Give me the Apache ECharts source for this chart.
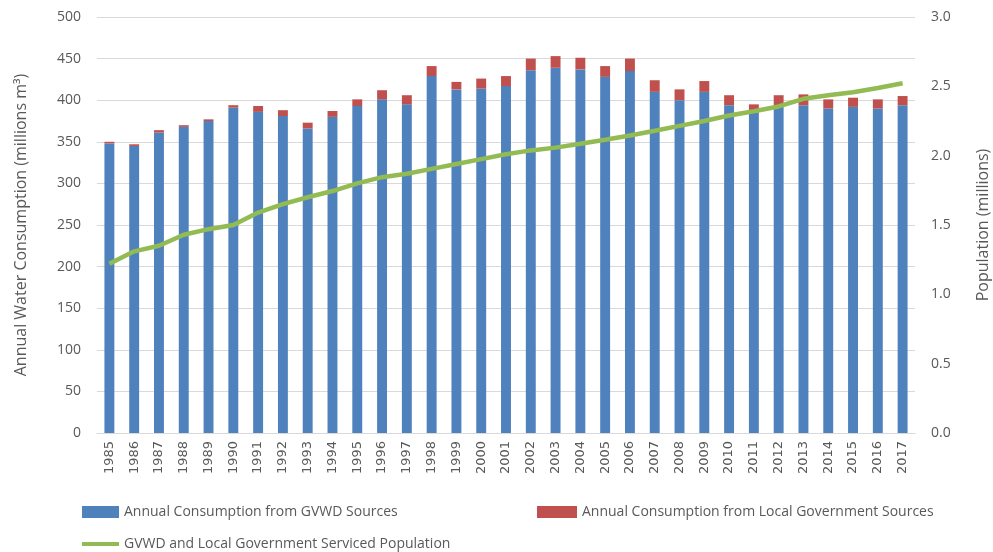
<!DOCTYPE html>
<html>
<head>
<meta charset="utf-8">
<script src="https://cdn.jsdelivr.net/npm/echarts@6/dist/echarts.min.js"></script>
<style>
  html, body { margin: 0; padding: 0; background: #fff; }
  #chart { width: 993px; height: 552px; }
</style>
</head>
<body>
<div id="chart"></div>
<script>
const years = ['1985', '1986', '1987', '1988', '1989', '1990', '1991', '1992', '1993', '1994', '1995',
  '1996', '1997', '1998', '1999', '2000', '2001', '2002', '2003', '2004', '2005', '2006',
  '2007', '2008', '2009', '2010', '2011', '2012', '2013', '2014', '2015', '2016', '2017']
// millions m3
const gvwd = [348, 345, 361, 368, 375, 391, 386, 381, 366, 380, 393,
  401, 395, 429, 413, 414, 417, 436, 439, 437, 428, 435,
  410, 400, 410, 394, 387, 392, 394, 390, 392, 390, 394]
const local = [2, 2, 3, 2, 2, 3, 7, 7, 7, 7, 8,
  11, 11, 12, 9, 12, 12, 14, 14, 14, 13, 15,
  14, 13, 13, 12, 8, 14, 13, 11, 11, 11, 11]
// millions
const population = [1.22, 1.31, 1.35, 1.43, 1.47, 1.50, 1.59, 1.65, 1.70, 1.745, 1.80,
  1.845, 1.87, 1.905, 1.94, 1.975, 2.01, 2.038, 2.058, 2.086, 2.115, 2.146,
  2.18, 2.215, 2.25, 2.29, 2.32, 2.355, 2.41, 2.435, 2.458, 2.488, 2.522]

const txt = '#595959'
const font = 'Open Sans'

const chart = echarts.init(document.getElementById('chart'))
const legendText = { fontFamily: font, fontSize: 14, color: txt }
const option = {
  animation: false,
  textStyle: { fontFamily: font, color: txt },
  grid: { left: 97, right: 78, top: 17, bottom: 119, outerBoundsMode: 'none', containLabel: false },
  legend: [
    {
      data: ['Annual Consumption from GVWD Sources'],
      left: 77, top: 500, itemWidth: 37, itemHeight: 12,
      icon: 'rect',
      textStyle: legendText
    },
    {
      data: ['Annual Consumption from Local Government Sources'],
      left: 532, top: 500, itemWidth: 40, itemHeight: 12,
      icon: 'rect',
      textStyle: legendText
    },
    {
      data: ['GVWD and Local Government Serviced Population'],
      left: 77, top: 532, itemWidth: 37, itemHeight: 4,
      icon: 'rect',
      textStyle: legendText
    }
  ],
  xAxis: {
    type: 'category',
    data: years,
    axisTick: { show: false },
    axisLine: { lineStyle: { color: '#d9d9d9' } },
    axisLabel: { rotate: 90, color: txt, fontSize: 13, fontFamily: 'DejaVu Sans', margin: 8 }
  },
  yAxis: [
    {
      type: 'value',
      min: 0, max: 500, interval: 50,
      name: 'Annual Water Consumption (millions m³)',
      nameLocation: 'middle',
      nameGap: 68,
      nameTextStyle: { fontFamily: font, fontSize: 16, color: txt },
      axisLabel: { color: txt, fontSize: 14, margin: 16 },
      axisLine: { show: false },
      axisTick: { show: false },
      splitLine: { lineStyle: { color: '#d9d9d9' } }
    },
    {
      type: 'value',
      min: 0, max: 3, interval: 0.5,
      name: 'Population (millions)',
      nameLocation: 'middle',
      nameGap: 60,
      nameRotate: 90,
      nameTextStyle: { fontFamily: font, fontSize: 16, color: txt },
      axisLabel: { color: txt, fontSize: 14, margin: 16, formatter: v => v.toFixed(1) },
      axisLine: { show: false },
      axisTick: { show: false },
      splitLine: { show: false }
    }
  ],
  series: [
    {
      name: 'Annual Consumption from GVWD Sources',
      type: 'bar',
      stack: 'water',
      barWidth: '40%',
      itemStyle: { color: '#4f81bd' },
      data: gvwd
    },
    {
      name: 'Annual Consumption from Local Government Sources',
      type: 'bar',
      stack: 'water',
      barWidth: '40%',
      itemStyle: { color: '#c0504d' },
      data: local
    },
    {
      name: 'GVWD and Local Government Serviced Population',
      type: 'line',
      yAxisIndex: 1,
      symbol: 'none',
      lineStyle: { color: '#93bb53', width: 4.5 },
      itemStyle: { color: '#93bb53' },
      data: population
    }
  ]
}
chart.setOption(option)
</script>
</body>
</html>
